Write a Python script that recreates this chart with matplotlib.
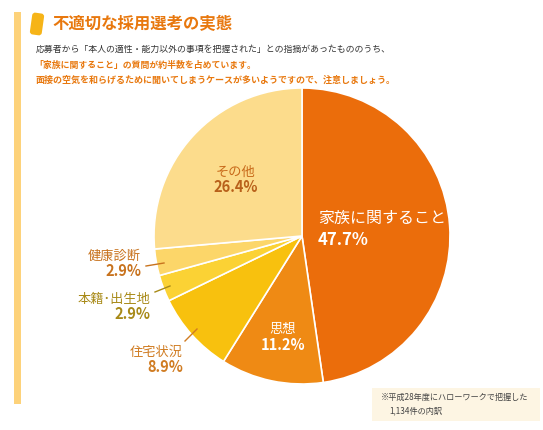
import matplotlib.pyplot as plt
from matplotlib.patches import Rectangle, FancyBboxPatch
import matplotlib.transforms as mtransforms

plt.rcParams['font.family'] = ['Noto Sans CJK JP', 'DejaVu Sans']

# data
labels = ['家族に関すること', '思想', '住宅状況', '本籍･出生地', '健康診断', 'その他']
values = [47.7, 11.2, 8.9, 2.9, 2.9, 26.4]
colors = ['#EB6D0B', '#EF8A14', '#F8C10E', '#FBD234', '#FCD669', '#FCDC8C']

title = '不適切な採用選考の実態'
lines = ['応募者から「本人の適性・能力以外の事項を把握された」との指摘があったもののうち、',
         '「家族に関すること」の質問が約半数を占めています。',
         '面接の空気を和らげるために聞いてしまうケースが多いようですので、注意しましょう。']
note = ['※平成28年度にハローワークで把握した', '1,134件の内訳']

W, H = 543, 430
fig = plt.figure(figsize=(W / 100, H / 100), dpi=100)
ax = fig.add_axes([0, 0, 1, 1])

def Y(y):
    return H - y

ax.pie(values, colors=colors, startangle=90, counterclock=False,
       center=(302, Y(236)), radius=148,
       wedgeprops=dict(edgecolor='white', linewidth=1.2))
ax.set_xlim(0, W)
ax.set_ylim(0, H)
ax.set_aspect('auto')
ax.axis('off')

# left bar and title icon
ax.add_patch(Rectangle((14, Y(404)), 7, 392, color='#FDD27A', lw=0))
icon = FancyBboxPatch((31, Y(35)), 12, 22, boxstyle='round,pad=0,rounding_size=3',
                      color='#F6B418', lw=0)
icon.set_transform(mtransforms.Affine2D().rotate_deg_around(37, Y(24), -8) + ax.transData)
ax.add_patch(icon)

ax.text(52, Y(24), title, fontsize=11.8, fontweight='bold', color='#E8780E', va='center')
ax.text(36, Y(49), lines[0], fontsize=6.4, color='#333333', va='center')
ax.text(34, Y(65), lines[1], fontsize=6.4, color='#E8780E', fontweight='bold', va='center')
ax.text(36, Y(80), lines[2], fontsize=6.5, color='#E8780E', fontweight='bold', va='center')

# slice labels
ax.text(318, Y(218), labels[0], fontsize=11.5, color='white', va='center')
ax.text(318, Y(240), f'{values[0]}%', fontsize=12, color='white', fontweight='bold', va='center')
ax.text(283, Y(329), labels[1], fontsize=9.5, color='white', ha='center', va='center')
ax.text(283, Y(345), f'{values[1]}%', fontsize=10.5, color='white', fontweight='bold', ha='center', va='center')
ax.text(236, Y(172), labels[5], fontsize=9.5, color='#C86A1A', ha='center', va='center')
ax.text(236, Y(187), f'{values[5]}%', fontsize=10.5, color='#B8601A', fontweight='bold', ha='center', va='center')

ax.text(141, Y(256), labels[4], fontsize=9.5, color='#C8731E', ha='right', va='center')
ax.text(141, Y(271), f'{values[4]}%', fontsize=10.5, color='#C8731E', fontweight='bold', ha='right', va='center')
ax.plot([146, 164], [Y(266), Y(263)], color='#C8731E', lw=1)

ax.text(150, Y(299), labels[3], fontsize=9.5, color='#A88A18', ha='right', va='center')
ax.text(150, Y(314), f'{values[3]}%', fontsize=10.5, color='#A88A18', fontweight='bold', ha='right', va='center')
ax.plot([155, 170], [Y(292), Y(286)], color='#A88A18', lw=1)

ax.text(183, Y(352), labels[2], fontsize=9.5, color='#D07C22', ha='right', va='center')
ax.text(183, Y(367), f'{values[2]}%', fontsize=10.5, color='#D07C22', fontweight='bold', ha='right', va='center')
ax.plot([185, 197], [Y(341), Y(329)], color='#D07C22', lw=1)

# note box
ax.add_patch(Rectangle((372, Y(421)), 168, 33, color='#FDF5E3', lw=0))
ax.text(381, Y(397), note[0], fontsize=5.9, color='#444444', va='center')
ax.text(389, Y(411), note[1], fontsize=5.9, color='#444444', va='center')

fig.savefig('out.png', dpi=100)
